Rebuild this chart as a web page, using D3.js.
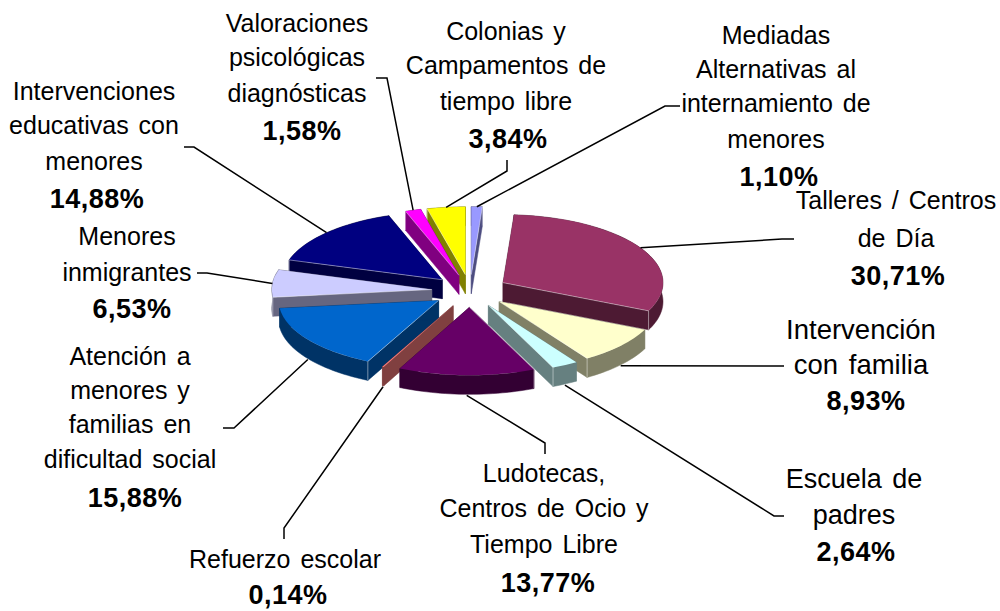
<!DOCTYPE html>
<html lang="es">
<head>
<meta charset="utf-8">
<style>
html,body{margin:0;padding:0;background:#fff}
svg{display:block}
text{font-family:"Liberation Sans",Arial,sans-serif;fill:#000}
</style>
<script src="https://cdn.jsdelivr.net/npm/d3@7"></script>
</head>
<body>
<svg id="chart" width="1000" height="611"></svg>
<script>
// ---- data (clockwise from 12 o'clock) ----
const categories = [
  ["Mediadas","Alternativas al","internamiento de","menores"],
  ["Talleres / Centros","de Día"],
  ["Intervención","con familia"],
  ["Escuela de","padres"],
  ["Ludotecas,","Centros de Ocio y","Tiempo Libre"],
  ["Refuerzo escolar"],
  ["Atención a","menores y","familias en","dificultad social"],
  ["Menores","inmigrantes"],
  ["Intervenciones","educativas con","menores"],
  ["Valoraciones","psicológicas","diagnósticas"],
  ["Colonias y","Campamentos de","tiempo libre"]
];
const values = [1.10,30.71,8.93,2.64,13.77,0.14,15.88,6.53,14.88,1.58,3.84];
const colors = ["#9999ff","#993366","#ffffcc","#ccffff","#660066","#ff8080","#0066cc","#ccccff","#000080","#ff00ff","#ffff00"];

// ---- layout (separate from data) ----
const cx = 470, cy = 291, rx = 160, ry = 68, depth = 19, explode = 0.24;
const fontSize = 25, boldSize = 27;
// label centre x, bold value centre x, baselines, then leader-line waypoints from the label side
const labelLayout = [
  {x:776, bx:779, y:[44,78,112,148,186], leader:[[665,106],[680,106]]},
  {x:896, bx:898, y:[209,247,285],       leader:[[782,239],[794,239]]},
  {x:861, bx:866, y:[339,374,410], fs:27.5, leader:[[773,366],[784,366]]},
  {x:854, bx:856, y:[488,524,561], fs:27,   leader:[[774,516],[784,516]]},
  {x:544, bx:548, y:[482,517,553,592],   leader:[[545,443],[545,454]]},
  {x:285, bx:288, y:[568,604],           leader:[[284,528],[284,539]]},
  {x:130, bx:135, y:[365,399,433,468,507], leader:[[234,428],[223,428]]},
  {x:127, bx:132, y:[245,281,318],       leader:[[207,273],[197,273]]},
  {x:94,  bx:97,  y:[100,134,170,208],   leader:[[194,147],[184,147]]},
  {x:297, bx:302, y:[32,66,102,140],     leader:[[387,78],[376,78]]},
  {x:506, bx:508, y:[40,74,110,148],     leader:[[507,171],[507,160]]}
];

const svg = d3.select("#chart");
const TAU = 2*Math.PI;
const pie = d3.pie().sort(null).value(d=>d).startAngle(0).endAngle(TAU);
const arcs = pie(values).map((a,i)=>{
  const mid = (a.startAngle+a.endAngle)/2;
  return {...a, i, mid,
    ax: cx + explode*rx*Math.sin(mid),
    ay: cy - explode*ry*Math.cos(mid)};
});
const rim = (s,t)=>[s.ax+rx*Math.sin(t), s.ay-ry*Math.cos(t)];
const line = d3.line();
const shade = c=>{const r=d3.rgb(c);return d3.rgb(r.r*.5,r.g*.5,r.b*.5).formatHex();};
const arcGen = d3.arc().innerRadius(0).outerRadius(rx);

const order = arcs.slice().sort((a,b)=>(-Math.cos(a.mid))-(-Math.cos(b.mid)));
const gPie = svg.append("g");

order.forEach(s=>{
  const g = gPie.append("g");
  const wall = shade(colors[s.i]);
  const a0 = s.startAngle, a1 = s.endAngle;
  const radial = t=>{
    const p = rim(s,t);
    return [[s.ax,s.ay],p,[p[0],p[1]+depth],[s.ax,s.ay+depth]];
  };
  [a0,a1].forEach(t=>{
    g.append("path").attr("d",line(radial(t))+"Z")
     .attr("fill",wall).attr("stroke",wall).attr("stroke-width",.5);
  });
  const n = Math.max(2,Math.ceil((a1-a0)/0.03));
  const ts = d3.range(n+1).map(k=>a0+(a1-a0)*k/n);
  const top = ts.map(t=>rim(s,t));
  const bottom = top.map(p=>[p[0],p[1]+depth]).reverse();
  g.append("path").attr("d",line(top.concat(bottom))+"Z")
   .attr("fill",wall).attr("stroke",wall).attr("stroke-width",.5);
  g.append("path")
   .attr("d",arcGen(s))
   .attr("transform",`translate(${s.ax},${s.ay}) scale(1,${ry/rx})`)
   .attr("fill",colors[s.i]);
  // pale highlight along the visible radial wall
  const visible = s.mid < Math.PI ? a1 : a0;
  const p = rim(s,visible);
  if (s.i !== 5) {
    g.append("path").attr("d",line([[s.ax,s.ay],p,[p[0],p[1]+depth]]))
     .attr("fill","none").attr("stroke","#fff").attr("stroke-opacity",.55).attr("stroke-width",.8);
  }
});

// leader lines: start on the slice rim, then go to the label
const gLead = svg.append("g").attr("fill","none").attr("stroke","#000").attr("stroke-width",1.5);
arcs.forEach(s=>{
  const p = rim(s,s.mid);
  const front = Math.cos(s.mid) < 0;
  const start = front ? [p[0],p[1]+depth+1] : p;
  gLead.append("path").attr("d",line([start].concat(labelLayout[s.i].leader)));
});

// labels
const fmt = v=>v.toFixed(2).replace(".",",")+"%";
const gText = svg.append("g").attr("text-anchor","middle");
arcs.forEach(s=>{
  const L = labelLayout[s.i], lines = categories[s.i];
  lines.forEach((t,k)=>{
    gText.append("text").attr("x",L.x).attr("y",L.y[k])
      .attr("font-size",L.fs || fontSize).attr("word-spacing",3).text(t);
  });
  gText.append("text").attr("x",L.bx).attr("y",L.y[lines.length])
    .attr("font-size",boldSize).attr("font-weight","bold").attr("letter-spacing",.5).text(fmt(values[s.i]));
});
</script>
</body>
</html>
